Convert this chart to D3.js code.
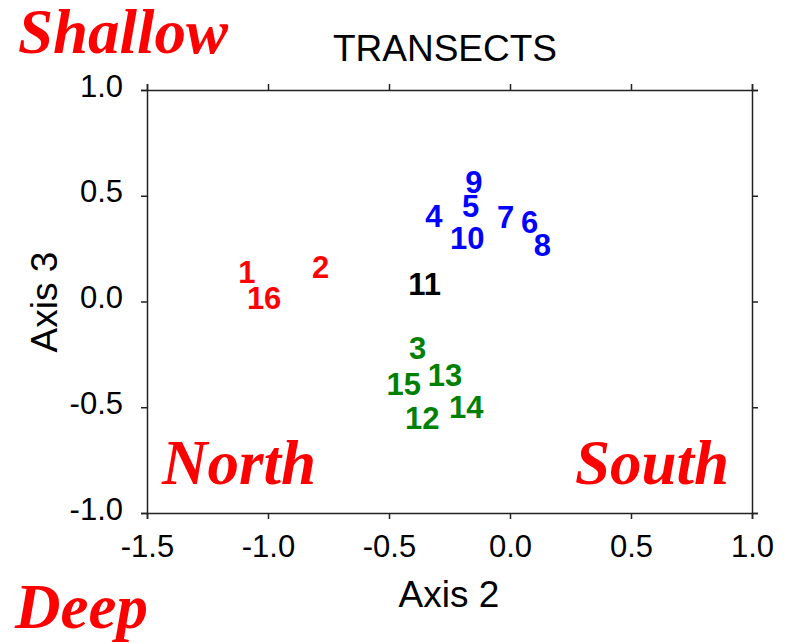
<!DOCTYPE html>
<html lang="en">
<head>
    <meta charset="UTF-8">
    <script src="https://d3js.org/d3.v7.min.js"></script>
    <title>Transects ordination</title>
    <style>
        body { margin: 0; background: #fff; }
        text { font-family: "Liberation Sans", Arial, sans-serif; }
    </style>
</head>
<body>
    <div id="chart"></div>
    <script>
        // transect scores
        const labels = ["1", "2", "3", "4", "5", "6", "7", "8", "9", "10", "11", "12", "13", "14", "15", "16"];
        const axis2 = [-1.087, -0.783, -0.382, -0.315, -0.163, 0.081, -0.018, 0.134, -0.149, -0.177, -0.353, -0.363, -0.269, -0.181, -0.439, -1.016];
        const axis3 = [0.141, 0.163, -0.220, 0.407, 0.450, 0.379, 0.402, 0.269, 0.568, 0.300, 0.084, -0.551, -0.346, -0.499, -0.389, 0.017];
        const groups = ["north", "north", "deep", "south", "south", "south", "south", "south", "south", "south", "mid", "deep", "deep", "deep", "deep", "north"];
        const groupColors = {north: "#ff0000", south: "#0000ff", deep: "#008000", mid: "#000000"};

        const xTicks = [-1.5, -1.0, -0.5, 0.0, 0.5, 1.0];
        const yTicks = [-1.0, -0.5, 0.0, 0.5, 1.0];

        const width = 789, height = 643;
        const margin = {top: 90, right: 37, bottom: 130, left: 147};

        const svg = d3.select("#chart")
            .append("svg")
            .attr("width", width)
            .attr("height", height);

        const x = d3.scaleLinear()
            .domain([-1.5, 1.0])
            .range([margin.left, width - margin.right]);
        const y = d3.scaleLinear()
            .domain([-1.0, 1.0])
            .range([height - margin.bottom, margin.top]);

        const fmt = d => d.toFixed(1);

        // bottom axis with labels
        const gx = svg.append("g")
            .attr("transform", `translate(0,${y(-1)})`)
            .call(d3.axisBottom(x).tickValues(xTicks).tickFormat(fmt).tickSize(6).tickPadding(16));
        // top axis, ticks only
        svg.append("g")
            .attr("transform", `translate(0,${y(1)})`)
            .call(d3.axisTop(x).tickValues(xTicks).tickFormat("").tickSize(6));
        // left axis with labels
        const gy = svg.append("g")
            .attr("transform", `translate(${x(-1.5)},0)`)
            .call(d3.axisLeft(y).tickValues(yTicks).tickFormat(fmt).tickSize(6).tickPadding(18));
        // right axis, ticks only
        svg.append("g")
            .attr("transform", `translate(${x(1)},0)`)
            .call(d3.axisRight(y).tickValues(yTicks).tickFormat("").tickSize(6));

        svg.selectAll(".domain, .tick line")
            .attr("stroke", "#222")
            .attr("stroke-width", 1.5);

        gx.selectAll(".tick text")
            .attr("font-size", 31)
            .attr("font-family", "Liberation Sans, Arial, sans-serif")
            .attr("fill", "#000");
        gy.selectAll(".tick text")
            .attr("font-size", 31)
            .attr("font-family", "Liberation Sans, Arial, sans-serif")
            .attr("fill", "#000")
            .attr("dy", "0.2em");

        // title and axis titles
        svg.append("text")
            .attr("x", 445)
            .attr("y", 61)
            .attr("text-anchor", "middle")
            .attr("font-size", 37)
            .text("TRANSECTS");

        svg.append("text")
            .attr("x", 449)
            .attr("y", 607)
            .attr("text-anchor", "middle")
            .attr("font-size", 37)
            .text("Axis 2");

        svg.append("text")
            .attr("transform", "translate(57,302) rotate(-90)")
            .attr("text-anchor", "middle")
            .attr("font-size", 37)
            .text("Axis 3");

        // point labels
        svg.append("g")
            .selectAll("text")
            .data(labels)
            .join("text")
            .attr("x", (d, i) => x(axis2[i]))
            .attr("y", (d, i) => y(axis3[i]))
            .attr("dy", "0.36em")
            .attr("text-anchor", "middle")
            .attr("font-size", 31)
            .attr("font-weight", "bold")
            .attr("fill", (d, i) => groupColors[groups[i]])
            .text(d => d);

        // region annotations
        const notes = [
            {t: "Shallow", x: 18, y: 53},
            {t: "North", x: 162, y: 484},
            {t: "South", x: 575, y: 484},
            {t: "Deep", x: 15, y: 628}
        ];
        svg.append("g")
            .selectAll("text")
            .data(notes)
            .join("text")
            .attr("x", d => d.x)
            .attr("y", d => d.y)
            .style("font-family", "'Liberation Serif', 'Times New Roman', serif")
            .attr("font-size", 63)
            .attr("font-style", "italic")
            .attr("font-weight", "bold")
            .attr("fill", "#ff0000")
            .text(d => d.t);
    </script>
</body>
</html>
